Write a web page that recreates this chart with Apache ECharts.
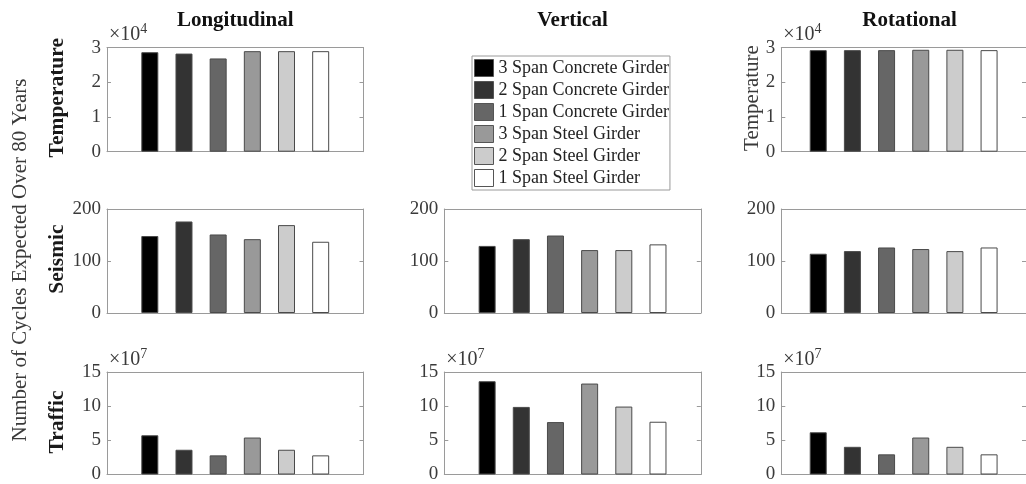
<!DOCTYPE html>
<html>
<head>
<meta charset="utf-8">
<script src="https://cdn.jsdelivr.net/npm/echarts@6/dist/echarts.min.js"></script>
<style>
  html, body { margin: 0; padding: 0; background: #ffffff; }
  #chart { width: 1026px; height: 484px; }
</style>
</head>
<body>
<div id="chart"></div>
<script>
// Girder types (one bar per type in every panel)
const girderTypes = [
  '3 Span Concrete Girder',
  '2 Span Concrete Girder',
  '1 Span Concrete Girder',
  '3 Span Steel Girder',
  '2 Span Steel Girder',
  '1 Span Steel Girder'
];
const barColors = ['#000000', '#333333', '#666666', '#999999', '#cccccc', '#ffffff'];

const columnTitles = ['Longitudinal', 'Vertical', 'Rotational'];
const rowTitles = ['Temperature', 'Seismic', 'Traffic'];

// Number of cycles expected over 80 years
const temperatureLongitudinal = [28700, 28300, 26900, 29000, 29000, 29000];
const temperatureRotational   = [29300, 29300, 29300, 29400, 29400, 29300];
const seismicLongitudinal = [148, 176, 151, 142, 169, 137];
const seismicVertical     = [129, 142, 149, 121, 121, 132];
const seismicRotational   = [114, 119, 126, 123, 119, 126];
const trafficLongitudinal = [5.74e7, 3.62e7, 2.80e7, 5.41e7, 3.62e7, 2.80e7];
const trafficVertical     = [13.65e7, 9.89e7, 7.67e7, 13.31e7, 9.94e7, 7.72e7];
const trafficRotational   = [6.18e7, 4.05e7, 2.95e7, 5.41e7, 4.05e7, 2.95e7];

// Tick labels per row (in units of 10^exponent)
const temperatureTicks = [0, 1, 2, 3];
const seismicTicks = [0, 100, 200];
const trafficTicks = [0, 5, 10, 15];
const rowExponents = [4, 0, 7];
const rowTicks = [temperatureTicks, seismicTicks, trafficTicks];

const panels = [
  { row: 0, col: 0, values: temperatureLongitudinal },
  { row: 0, col: 2, values: temperatureRotational },
  { row: 1, col: 0, values: seismicLongitudinal },
  { row: 1, col: 1, values: seismicVertical },
  { row: 1, col: 2, values: seismicRotational },
  { row: 2, col: 0, values: trafficLongitudinal },
  { row: 2, col: 1, values: trafficVertical },
  { row: 2, col: 2, values: trafficRotational }
];

// Layout of the 3x3 axes grid
const colLeft = [107, 444.3, 781.3];
const plotWidth = 256.5;
const rowTop = [47.7, 209, 372];
const plotHeight = 104;

const serif = '"Liberation Serif", "Times New Roman", serif';
const axisGray = '#9a9a9a';
const labelGray = '#3a3a3a';

const grids = [], xAxes = [], yAxes = [], series = [];

panels.forEach((p, i) => {
  const ticks = rowTicks[p.row];
  const exp = rowExponents[p.row];
  const scale = Math.pow(10, exp);
  const yMax = ticks[ticks.length - 1] * scale;
  const yStep = (ticks[1] - ticks[0]) * scale;

  grids.push({ left: colLeft[p.col], top: rowTop[p.row], width: plotWidth, height: plotHeight });

  const xBase = {
    type: 'category', gridIndex: i, data: [''],
    axisLine: { onZero: false, lineStyle: { color: axisGray, width: 1 } },
    axisTick: { inside: true, alignWithLabel: true, length: 4, lineStyle: { color: axisGray } },
    axisLabel: { show: false },
    splitLine: { show: false }
  };
  xAxes.push(Object.assign({}, xBase, { position: 'bottom' }));
  xAxes.push(Object.assign({}, xBase, { position: 'top' }));

  const yBase = {
    type: 'value', gridIndex: i, min: 0, max: yMax, interval: yStep,
    axisLine: { show: true, onZero: false, lineStyle: { color: axisGray, width: 1 } },
    axisTick: { show: true, inside: true, length: 4, lineStyle: { color: axisGray } },
    splitLine: { show: false }
  };
  yAxes.push(Object.assign({}, yBase, {
    position: 'left',
    name: exp ? '{a|×10}{b|' + exp + '}' : '',
    nameLocation: 'end',
    nameGap: 0,
    nameTextStyle: {
      align: 'left', verticalAlign: 'bottom', padding: [0, 0, 0, 2],
      rich: {
        a: { fontFamily: serif, fontSize: 20, color: labelGray },
        b: { fontFamily: serif, fontSize: 14, color: labelGray, padding: [0, 0, 11, 0] }
      }
    },
    axisLabel: {
      fontFamily: serif, fontSize: 19, color: labelGray, margin: 6,
      formatter: v => String(Math.round(v / scale))
    }
  }));
  yAxes.push(Object.assign({}, yBase, { position: 'right', axisLabel: { show: false } }));

  girderTypes.forEach((name, k) => {
    series.push({
      type: 'bar', name: name,
      xAxisIndex: 2 * i, yAxisIndex: 2 * i,
      data: [p.values[k]],
      barWidth: 17, barGap: '101%',
      itemStyle: { color: barColors[k], borderColor: '#4a4a4a', borderWidth: 1 },
      emphasis: { disabled: true },
      animation: false
    });
  });
});

const graphics = [];
// Column titles
columnTitles.forEach((t, c) => {
  graphics.push({
    type: 'text', x: colLeft[c] + plotWidth / 2, y: 21,
    style: { text: t, font: 'bold 21px ' + serif, fill: '#111', textAlign: 'center', textVerticalAlign: 'middle' }
  });
});
// Row titles on the left column
rowTitles.forEach((t, r) => {
  graphics.push({
    type: 'text', x: 57, y: rowTop[r] + plotHeight / 2 - 2, rotation: Math.PI / 2,
    style: { text: t, font: 'bold 21.5px ' + serif, fill: '#1a1a1a', textAlign: 'center', textVerticalAlign: 'middle' }
  });
});
// Y label on the rotational temperature panel
graphics.push({
  type: 'text', x: 752, y: 98, rotation: Math.PI / 2,
  style: { text: 'Temperature', font: '21px ' + serif, fill: labelGray, textAlign: 'center', textVerticalAlign: 'middle' }
});
// Shared y label
graphics.push({
  type: 'text', x: 20, y: 260, rotation: Math.PI / 2,
  style: { text: 'Number of Cycles Expected Over 80 Years', font: '21px ' + serif, fill: labelGray, textAlign: 'center', textVerticalAlign: 'middle' }
});

const chart = echarts.init(document.getElementById('chart'), null, { renderer: 'canvas' });
chart.setOption({
  animation: false,
  backgroundColor: '#ffffff',
  grid: grids,
  xAxis: xAxes,
  yAxis: yAxes,
  series: series,
  legend: {
    data: girderTypes,
    orient: 'vertical',
    left: 472, top: 56,
    icon: 'rect',
    itemWidth: 19, itemHeight: 17, itemGap: 4, itemTextGap: 2,
    padding: [3, 1, 3, 2],
    borderColor: axisGray, borderWidth: 1,
    backgroundColor: '#ffffff',
    selectedMode: false,
    itemStyle: { borderColor: '#555555', borderWidth: 1 },
    textStyle: { fontFamily: serif, fontSize: 18, color: '#222' }
  },
  graphic: graphics
});
</script>
</body>
</html>
